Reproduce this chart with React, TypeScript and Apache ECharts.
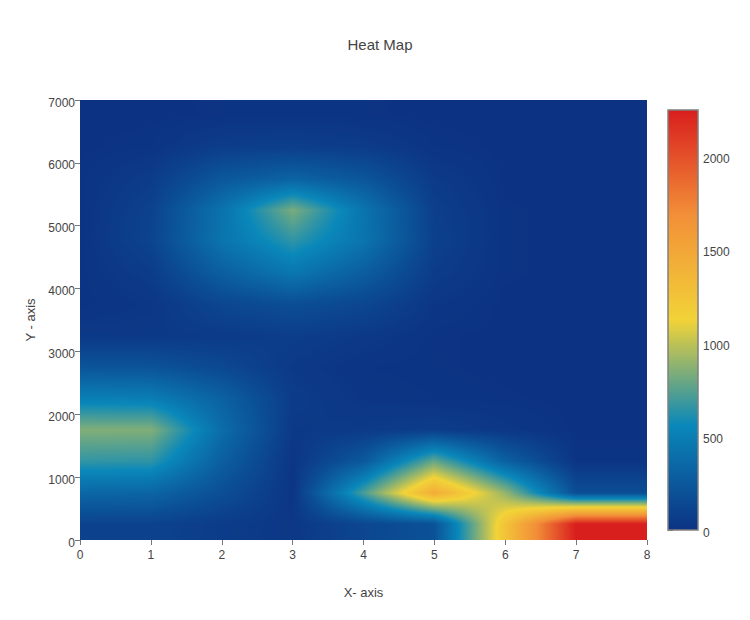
import React, { useEffect, useRef } from "react";
import * as echarts from "echarts";

const FONT = '"Liberation Sans", sans-serif';
const TEXT = "#444444";
const TICK = "#777777";

const xNodes = [0, 1, 2, 3, 4, 5, 6, 7, 8];
const yNodes = [250, 750, 1250, 1750, 2250, 2750, 3250, 3750, 4250, 4750, 5250, 5750, 6250, 6750];
const row250 = [100, 100, 60, 30, 130, 200, 1250, 2250, 2250];
const row750 = [340, 330, 180, 15, 720, 1450, 900, 180, 180];
const row1250 = [660, 650, 290, 20, 250, 780, 300, 10, 10];
const row1750 = [850, 850, 380, 40, 50, 70, 30, 0, 0];
const row2250 = [510, 500, 310, 60, 20, 10, 5, 0, 0];
const row2750 = [220, 210, 140, 40, 10, 5, 0, 0, 0];
const row3250 = [40, 40, 50, 70, 40, 5, 0, 0, 0];
const row3750 = [5, 25, 130, 180, 130, 25, 0, 0, 0];
const row4250 = [5, 60, 290, 450, 280, 60, 5, 0, 0];
const row4750 = [5, 110, 430, 650, 430, 90, 5, 0, 0];
const row5250 = [5, 100, 420, 830, 430, 80, 5, 0, 0];
const row5750 = [5, 60, 240, 320, 230, 50, 0, 0, 0];
const row6250 = [0, 10, 70, 80, 60, 10, 0, 0, 0];
const row6750 = [0, 0, 5, 10, 5, 0, 0, 0, 0];
const zRows = [row250, row750, row1250, row1750, row2250, row2750, row3250, row3750, row4250, row4750, row5250, row5750, row6250, row6750];

const zMax = 2248;
const colorbarTicks = [0, 500, 1000, 1500, 2000];
const portland: [number, number[]][] = [
  [0, [12, 51, 131]],
  [0.25, [10, 136, 186]],
  [0.5, [242, 211, 56]],
  [0.75, [242, 143, 56]],
  [1, [217, 30, 30]],
];

function colorAt(z: number): number[] {
  const t = Math.max(0, Math.min(1, z / zMax));
  for (let i = 1; i < portland.length; i++) {
    if (t <= portland[i][0]) {
      const [t0, c0] = portland[i - 1];
      const [t1, c1] = portland[i];
      const f = (t - t0) / (t1 - t0);
      return [0, 1, 2].map((k) => c0[k] + (c1[k] - c0[k]) * f);
    }
  }
  return portland[portland.length - 1][1];
}

// [xLo, xHi, yLo, yHi, zLoLo, zHiLo, zLoHi, zHiHi]
function buildCells(): number[][] {
  const yEdges = [0, ...yNodes, 7000];
  const rows = [zRows[0], ...zRows, zRows[zRows.length - 1]];
  const cells: number[][] = [];
  for (let j = 0; j < yEdges.length - 1; j++) {
    for (let i = 0; i < xNodes.length - 1; i++) {
      cells.push([xNodes[i], xNodes[i + 1], yEdges[j], yEdges[j + 1], rows[j][i], rows[j][i + 1], rows[j + 1][i], rows[j + 1][i + 1]]);
    }
  }
  return cells;
}

function renderCell(_params: any, api: any) {
  const a = api.coord([api.value(0), api.value(2)]);
  const b = api.coord([api.value(1), api.value(3)]);
  const x0 = Math.round(a[0]);
  const x1 = Math.round(b[0]);
  const yTop = Math.round(b[1]);
  const yBot = Math.round(a[1]);
  const w = x1 - x0;
  const h = yBot - yTop;
  if (w <= 0 || h <= 0) return null;
  const z00 = api.value(4);
  const z10 = api.value(5);
  const z01 = api.value(6);
  const z11 = api.value(7);
  const canvas = document.createElement("canvas");
  canvas.width = w;
  canvas.height = h;
  const ctx = canvas.getContext("2d")!;
  const img = ctx.createImageData(w, h);
  for (let py = 0; py < h; py++) {
    const v = 1 - (py + 0.5) / h;
    for (let px = 0; px < w; px++) {
      const u = (px + 0.5) / w;
      const z = (z00 * (1 - u) + z10 * u) * (1 - v) + (z01 * (1 - u) + z11 * u) * v;
      const c = colorAt(z);
      const o = (py * w + px) * 4;
      img.data[o] = c[0];
      img.data[o + 1] = c[1];
      img.data[o + 2] = c[2];
      img.data[o + 3] = 255;
    }
  }
  ctx.putImageData(img, 0, 0);
  return {
    type: "image",
    style: { image: canvas.toDataURL(), x: x0, y: yTop, width: w, height: h },
  };
}

function renderColorbar(_params: any, api: any) {
  const a = api.coord([api.value(0), api.value(2)]);
  const b = api.coord([api.value(1), api.value(3)]);
  return {
    type: "rect",
    shape: { x: a[0], y: b[1], width: b[0] - a[0], height: a[1] - b[1] },
    style: {
      fill: new echarts.graphic.LinearGradient(
        0, 1, 0, 0,
        portland.map(([offset, c]) => ({ offset, color: `rgb(${c[0]},${c[1]},${c[2]})` }))
      ),
      stroke: "#808080",
      lineWidth: 1.5,
    },
  };
}

const plain = (v: number) => String(v);

export default function App() {
  const ref = useRef<HTMLDivElement>(null);
  useEffect(() => {
    const chart = echarts.init(ref.current!, undefined, { renderer: "svg" });
    const axisLabel = { color: TEXT, fontFamily: FONT, fontSize: 12, formatter: plain };
    const yLabelShift = { verticalAlign: "top", lineHeight: 5 };
    const axisTick = { show: true, length: 5, lineStyle: { color: TICK, width: 1 } };
    const nameTextStyle = { color: TEXT, fontFamily: FONT, fontSize: 13 };
    chart.setOption({
      animation: false,
      backgroundColor: "#ffffff",
      textStyle: { fontFamily: FONT },
      title: {
        text: "Heat Map",
        left: 375,
        top: 32,
        textAlign: "center",
        textStyle: { color: TEXT, fontFamily: FONT, fontSize: 15, fontWeight: "normal" },
      },
      grid: [
        { left: 80, top: 100, width: 567, height: 440 },
        { left: 668, top: 110, width: 30, height: 420 },
      ],
      xAxis: [
        {
          gridIndex: 0,
          type: "value",
          min: 0,
          max: 8,
          interval: 1,
          name: "X- axis",
          nameLocation: "middle",
          nameGap: 46,
          nameTextStyle,
          axisLine: { show: false },
          axisTick,
          axisLabel: { ...axisLabel, margin: 9 },
          splitLine: { show: false },
        },
        { gridIndex: 1, type: "value", min: 0, max: 1, show: false },
      ],
      yAxis: [
        {
          gridIndex: 0,
          type: "value",
          min: 0,
          max: 7000,
          interval: 1000,
          name: "Y - axis",
          nameLocation: "middle",
          nameGap: 37,
          nameTextStyle,
          axisLine: { show: false },
          axisTick,
          axisLabel: { ...axisLabel, ...yLabelShift, margin: 5 },
          splitLine: { show: false },
        },
        {
          gridIndex: 1,
          type: "value",
          position: "right",
          min: 0,
          max: zMax,
          axisLine: { show: false },
          axisTick: { ...axisTick, customValues: colorbarTicks },
          axisLabel: { ...axisLabel, ...yLabelShift, margin: 5, customValues: colorbarTicks },
          splitLine: { show: false },
        },
      ],
      series: [
        {
          type: "custom",
          xAxisIndex: 0,
          yAxisIndex: 0,
          silent: true,
          clip: false,
          renderItem: renderCell,
          encode: { x: [0, 1], y: [2, 3] },
          data: buildCells(),
        },
        {
          type: "custom",
          xAxisIndex: 1,
          yAxisIndex: 1,
          silent: true,
          renderItem: renderColorbar,
          encode: { x: [0, 1], y: [2, 3] },
          data: [[0, 1, 0, zMax]],
        },
      ],
    });
    return () => chart.dispose();
  }, []);
  return <div ref={ref} style={{ position: "fixed", left: 0, top: 0, width: 750, height: 620 }} />;
}
